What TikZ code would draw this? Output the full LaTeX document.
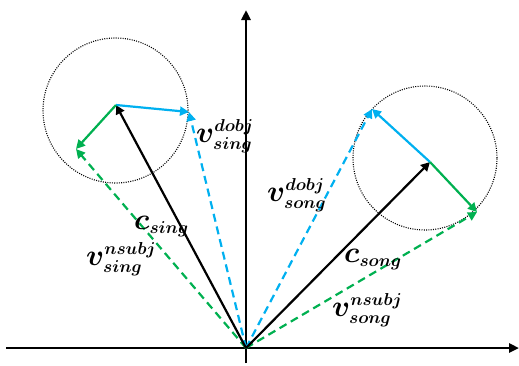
\documentclass[tikz,border=0pt]{standalone}
\usepackage{bm}
\DeclareMathSizes{24.88}{24.88}{14.4}{10}
\usetikzlibrary{arrows.meta}
\definecolor{vblue}{RGB}{0,176,240}
\definecolor{vgreen}{RGB}{0,176,80}
\tikzset{
  axis/.style={line width=2.8pt,-{Triangle[length=10pt,width=9pt]}},
  vec/.style={line width=2.2pt,-{Triangle[length=9pt,width=9pt]}},
  dvec/.style={line width=2.2pt,dash pattern=on 8pt off 5pt,-{Triangle[length=9pt,width=9pt]}},
  ring/.style={line width=1.1pt,dash pattern=on 1pt off 1.3pt},
  lab/.style={anchor=base west,inner sep=0pt,scale=1.2,transform shape,font=\fontsize{24.88}{28}\selectfont}
}
\begin{document}
\begin{tikzpicture}[x=1pt,y=-1pt]
\useasboundingbox (0,0) rectangle (519,365);
\coordinate (O) at (246,348);
\coordinate (axL) at (6,348);
\coordinate (axR) at (519,348);
\coordinate (axB) at (246,363);
\coordinate (axT) at (246,10);
% left cluster
\coordinate (cs) at (116,105);
\coordinate (bs) at (189,112);
\coordinate (gs) at (76,149);
% right cluster
\coordinate (cg) at (430,162);
\coordinate (bg) at (372,109);
\coordinate (gg) at (477,212);
% circles
\node[ring,draw,circle,minimum size=145pt,inner sep=0pt] (cl) at (115.5,110.5) {};
\node[ring,draw,circle,minimum size=144pt,inner sep=0pt] (cr) at (425,158) {};
% axes
\draw[axis] (axL) -- (axR);
\draw[axis] (axB) -- (axT);
% dashed vectors
\draw[dvec,vblue] (O) -- (bs);
\draw[dvec,vgreen] (O) -- (gs);
\draw[dvec,vblue] (O) -- (bg);
\draw[dvec,vgreen] (O) -- (gg);
% solid vectors
\draw[vec,black] (O) -- (cs);
\draw[vec,vblue] (cs) -- (bs);
\draw[vec,vgreen] (cs) -- (gs);
\draw[vec,black] (O) -- (cg);
\draw[vec,vblue] (cg) -- (bg);
\draw[vec,vgreen] (cg) -- (gg);
% labels
\node[lab] (l1) at (196,142) {$\bm{v}^{\bm{dobj}}_{\bm{sing}}$};
\node[lab] (l2) at (134,229) {$\bm{c}_{\bm{sing}}$};
\node[lab] (l3) at (86,265) {$\bm{v}^{\bm{nsubj}}_{\bm{sing}}$};
\node[lab] (l4) at (267,201) {$\bm{v}^{\bm{dobj}}_{\bm{song}}$};
\node[lab] (l5) at (344,262) {$\bm{c}_{\bm{song}}$};
\node[lab] (l6) at (332,316) {$\bm{v}^{\bm{nsubj}}_{\bm{song}}$};
\end{tikzpicture}
\end{document}
